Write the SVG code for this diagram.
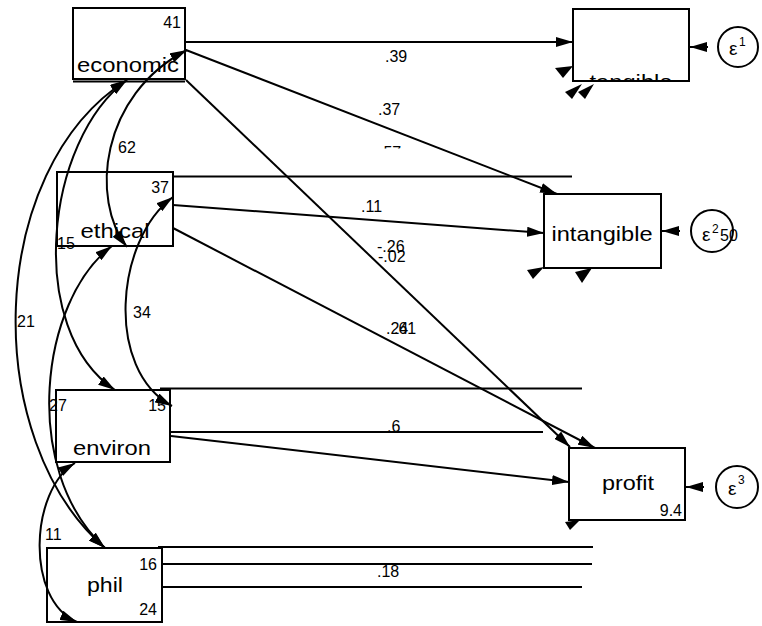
<svg xmlns="http://www.w3.org/2000/svg" width="762" height="626" viewBox="0 0 762 626">
<style>
  .box { fill: none; stroke: #000; stroke-width: 2; }
  .ln { fill: none; stroke: #000; stroke-width: 2; }
  .cv { fill: none; stroke: #000; stroke-width: 2; marker-start: url(#ah); marker-end: url(#ah); }
  .ar { fill: none; stroke: #000; stroke-width: 2; marker-end: url(#ah); }
  .name { font-family: "Liberation Sans", Arial, sans-serif; font-size: 21px; fill: #000; text-anchor: middle; }
  .num { font-family: "Liberation Sans", Arial, sans-serif; font-size: 16px; fill: #000; }
  .r { text-anchor: end; }
  .eps { font-family: "Liberation Sans", Arial, sans-serif; font-size: 19px; fill: #000; }
  .sup { font-family: "Liberation Sans", Arial, sans-serif; font-size: 12px; fill: #000; }
  .circ { fill: #fff; stroke: #000; stroke-width: 2; }
  .head { fill: #000; stroke: none; }
</style>
<defs>
  <marker id="ah" viewBox="0 0 17 10" refX="17" refY="5" markerWidth="17" markerHeight="10" orient="auto-start-reverse" markerUnits="userSpaceOnUse">
    <path d="M0,0 L17,5 L0,10 Z" fill="#000"/>
  </marker>
  <clipPath id="clipTang"><rect x="560" y="0" width="140" height="80"/></clipPath>
  <clipPath id="clipLbl"><rect x="370" y="140" width="50" height="8.5"/></clipPath>
</defs>
<rect width="762" height="626" fill="#fff"/>

<g id="connectors">
  <!-- horizontal stray lines -->
  <line class="ln" x1="173" y1="176.5" x2="572" y2="176.5"/>
  <line class="ln" x1="160" y1="388.5" x2="582" y2="388.5"/>
  <line class="ln" x1="170" y1="432" x2="543" y2="432"/>
  <line class="ln" x1="158" y1="547" x2="593" y2="547"/>
  <line class="ln" x1="162" y1="564" x2="592" y2="564"/>
  <line class="ln" x1="162" y1="587" x2="582" y2="587"/>
  <!-- paths -->
  <line class="ar" x1="186" y1="42" x2="573" y2="42"/>
  <line class="ar" x1="186" y1="50" x2="557" y2="194"/>
  <line class="ar" x1="186" y1="80" x2="570" y2="447"/>
  <line class="ar" x1="173" y1="205" x2="544" y2="233"/>
  <line class="ar" x1="173" y1="228" x2="595" y2="448"/>
  <line class="ar" x1="171" y1="436" x2="569" y2="482"/>
  <!-- error arrows -->
  <line class="ar" x1="708" y1="47" x2="690" y2="47"/>
  <line class="ar" x1="680" y1="231" x2="662" y2="231"/>
  <line class="ar" x1="704" y1="487" x2="686" y2="487"/>
  <!-- covariances -->
  <path class="cv" d="M187,50 C100,95 90,200 127,247"/>
  <path class="cv" d="M127,80 C45,140 25,330 115,390"/>
  <path class="cv" d="M127,80 C-15,170 -20,440 105,548"/>
  <path class="cv" d="M112,246 C40,300 20,470 105,548"/>
  <path class="cv" d="M75,463 C30,490 25,600 77,622"/>
  <path class="cv" d="M173,197 C115,240 105,370 172,406"/>
  <!-- stray arrowheads -->
  <polygon class="head" points="573,66 555,68 563,78"/>
  <polygon class="head" points="582,84 565,92 572,99"/>
  <polygon class="head" points="594,84 578,92 585,99"/>
  <polygon class="head" points="544,267 527,270 533,279"/>
  <polygon class="head" points="592,268 575,272 582,283"/>
  <polygon class="head" points="580,520 565,522 570,530"/>
  <!-- labels -->
  <text class="num" x="385" y="62">.39</text>
  <text class="num" x="378" y="115">.37</text>
  <text class="num" x="379" y="157.5" clip-path="url(#clipLbl)">.57</text>
  <text class="num" x="361" y="212">.11</text>
  <text class="num" x="377" y="252">-.26</text>
  <text class="num" x="378" y="262">-.02</text>
  <text class="num" x="386" y="334">.24</text>
  <text class="num" x="394" y="334">.61</text>
  <text class="num" x="387" y="432">.6</text>
  <text class="num" x="377" y="577">.18</text>
  <text class="num" x="118" y="153">62</text>
  <text class="num" x="57" y="249">15</text>
  <text class="num" x="133" y="318">34</text>
  <text class="num" x="17" y="327">21</text>
  <text class="num" x="49" y="411">27</text>
  <text class="num" x="45" y="540">11</text>
</g>

<g id="economic">
  <rect class="box" x="73" y="8" width="112" height="71"/>
  <line class="ln" x1="73" y1="81.5" x2="185" y2="81.5"/>
  <text class="num r" x="181" y="28">41</text>
  <text class="name" x="128" y="72" textLength="102" lengthAdjust="spacingAndGlyphs">economic</text>
</g>
<g id="ethical">
  <rect class="box" x="57" y="172" width="116" height="74"/>
  <text class="num r" x="169" y="193">37</text>
  <text class="name" x="115" y="238" textLength="69" lengthAdjust="spacingAndGlyphs">ethical</text>
</g>
<g id="environ">
  <rect class="box" x="56" y="390" width="114" height="72"/>
  <text class="num r" x="166" y="411">15</text>
  <text class="name" x="112" y="455" textLength="78" lengthAdjust="spacingAndGlyphs">environ</text>
</g>
<g id="phil">
  <rect class="box" x="47" y="548" width="115" height="74"/>
  <text class="num r" x="157" y="570">16</text>
  <text class="num r" x="157" y="615">24</text>
  <text class="name" x="105" y="592" textLength="36" lengthAdjust="spacingAndGlyphs">phil</text>
</g>
<g id="tangible">
  <rect class="box" x="573" y="9" width="116" height="72"/>
  <text class="name" x="631" y="89" textLength="83" lengthAdjust="spacingAndGlyphs" clip-path="url(#clipTang)">tangible</text>
</g>
<g id="intangible">
  <rect class="box" x="544" y="194" width="117" height="74"/>
  <text class="name" x="602" y="241" textLength="101" lengthAdjust="spacingAndGlyphs">intangible</text>
</g>
<g id="profit">
  <rect class="box" x="569" y="448" width="116" height="72"/>
  <text class="name" x="628" y="490" textLength="52" lengthAdjust="spacingAndGlyphs">profit</text>
  <text class="num r" x="682" y="516">9.4</text>
</g>
<g id="e1">
  <circle class="circ" cx="738" cy="47" r="20"/>
  <text class="eps" x="729" y="55">ε</text>
  <text class="sup" x="739" y="46">1</text>
</g>
<g id="e2">
  <circle class="circ" cx="712" cy="231" r="21"/>
  <text class="eps" x="702" y="241">ε</text>
  <text class="sup" x="712" y="233">2</text>
  <text class="num" x="720" y="241">50</text>
</g>
<g id="e3">
  <circle class="circ" cx="737" cy="487" r="21"/>
  <text class="eps" x="728" y="495">ε</text>
  <text class="sup" x="738" y="484">3</text>
</g>
</svg>
